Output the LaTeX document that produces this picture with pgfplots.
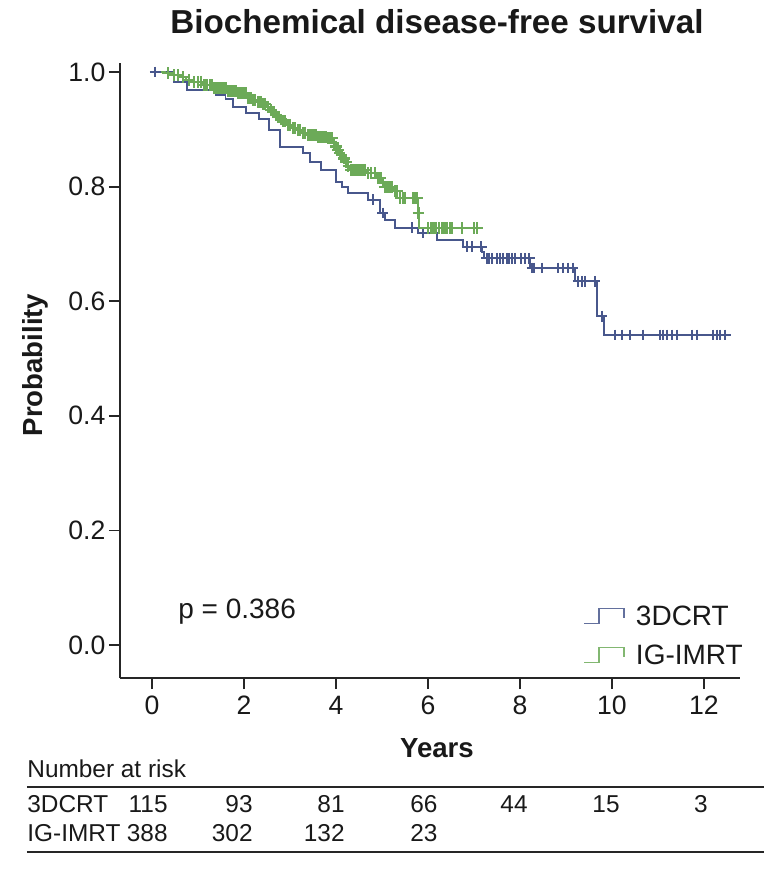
\documentclass[border=0pt]{standalone}
\usepackage{fontspec}
\setmainfont{Liberation Sans}
\usepackage{pgfplots}
\pgfplotsset{compat=1.18}
\definecolor{cblue}{RGB}{72,87,140}
\definecolor{cgreen}{RGB}{108,170,88}
\begin{document}
\begin{tikzpicture}
\begin{axis}[
  x=23pt, y=286.5pt,
  xmin=-0.7, xmax=12.78, ymin=-0.058, ymax=1.015,
  axis x line*=bottom, axis y line*=left,
  axis line style={line width=1pt, black!85},
  xtick={0,2,4,6,8,10,12}, ytick={0,0.2,0.4,0.6,0.8,1},
  tick align=outside, major tick length=5.5pt,
  tick style={line width=0.9pt, black!85},
  yticklabel style={/pgf/number format/fixed, /pgf/number format/fixed zerofill, /pgf/number format/precision=1, inner xsep=1.5pt},
  /pgf/number format/assume math mode=true,
  tick label style={font=\fontsize{13.3}{15}\selectfont, black!90},
  clip=false,
  every axis title shift=0pt,
  title={Biochemical disease-free survival},
  title style={at={(axis cs:6.196,1.0873)}, anchor=center, yshift=0pt, font=\bfseries\fontsize{16.6}{19}\selectfont, black!90},
  xlabel={Years},
  xlabel style={at={(axis cs:6.196,-0.1798)}, anchor=center, font=\bfseries\fontsize{13.8}{16}\selectfont, black!90},
  ylabel={Probability},
  ylabel style={at={(axis cs:-2.543,0.4887)}, anchor=center, font=\bfseries\fontsize{13.8}{16}\selectfont, black!90},
  legend style={at={(axis cs:9.37,0.0750)}, anchor=north west, draw=none, fill=none, inner sep=0pt,
    font=\fontsize{14}{16}\selectfont, row sep=4.2pt, nodes={inner sep=2pt, text=black!90}},
  legend cell align=left,
]
% 3DCRT step curve
\addplot[cblue, line width=0.9pt, const plot,
  legend image code/.code={\draw[cblue!85, line width=0.7pt] (0pt,-3pt) -- (7.5pt,-3pt) -- (7.5pt,4.5pt) -- (20pt,4.5pt) -- (20pt,0pt); \path (23.5pt,0pt);}]
table {
x y
0 1.000
0.48 0.983
0.76 0.969
1.40 0.960
1.60 0.953
1.76 0.939
2.04 0.928
2.33 0.918
2.54 0.899
2.78 0.869
3.28 0.859
3.43 0.843
3.67 0.829
4.00 0.808
4.13 0.799
4.26 0.789
4.70 0.777
4.96 0.754
5.07 0.742
5.28 0.728
5.78 0.719
6.20 0.707
6.76 0.695
7.17 0.686
7.22 0.675
8.22 0.658
9.20 0.635
9.67 0.574
9.83 0.541
12.50 0.541
};
\addlegendentry{3DCRT}
% 3DCRT censored
\addplot[cblue, only marks, mark=+, mark size=2.7pt, line width=0.9pt, forget plot]
table {
x y
0.07 1.000
4.80 0.777
5.02 0.754
5.65 0.728
5.89 0.719
6.85 0.695
6.96 0.695
7.16 0.695
7.28 0.675
7.33 0.675
7.39 0.675
7.50 0.675
7.57 0.675
7.63 0.675
7.72 0.675
7.76 0.675
7.83 0.675
7.89 0.675
8.02 0.675
8.11 0.675
8.20 0.675
8.26 0.658
8.31 0.658
8.48 0.658
8.83 0.658
8.93 0.658
9.04 0.658
9.15 0.658
9.26 0.635
9.35 0.635
9.41 0.635
9.63 0.635
9.78 0.574
10.07 0.541
10.22 0.541
10.39 0.541
10.67 0.541
11.04 0.541
11.11 0.541
11.20 0.541
11.30 0.541
11.41 0.541
11.74 0.541
11.85 0.541
12.20 0.541
12.28 0.541
12.35 0.541
12.46 0.541
};
% IG-IMRT step curve
\addplot[cgreen, line width=0.9pt, const plot,
  legend image code/.code={\draw[cgreen!85, line width=0.7pt] (0pt,-3pt) -- (7.5pt,-3pt) -- (7.5pt,4.5pt) -- (20pt,4.5pt) -- (20pt,0pt); \path (23.5pt,0pt);}]
table {
x y
0 1.000
0.28 0.998
0.43 0.995
0.61 0.991
0.74 0.986
0.87 0.983
1.11 0.977
1.33 0.972
1.63 0.967
1.85 0.963
2.07 0.955
2.17 0.951
2.28 0.948
2.39 0.944
2.50 0.939
2.56 0.934
2.61 0.930
2.67 0.925
2.72 0.921
2.78 0.917
2.83 0.914
2.93 0.908
3.04 0.902
3.15 0.899
3.26 0.894
3.37 0.890
3.59 0.887
3.80 0.885
3.93 0.876
3.98 0.870
4.02 0.864
4.06 0.859
4.09 0.855
4.15 0.849
4.20 0.843
4.25 0.836
4.30 0.829
4.67 0.824
4.89 0.815
5.02 0.799
5.24 0.792
5.39 0.780
5.79 0.754
5.80 0.728
7.13 0.728
};
\addlegendentry{IG-IMRT}
% IG-IMRT censored
\addplot[cgreen, only marks, mark=+, mark size=2.9pt, line width=1.1pt, forget plot]
table {
x y
0.35 0.998
0.48 0.995
0.56 0.995
0.68 0.991
0.80 0.986
0.92 0.983
1.00 0.983
1.06 0.983
1.14 0.977
1.20 0.977
1.26 0.977
1.31 0.977
1.36 0.972
1.40 0.972
1.44 0.972
1.48 0.972
1.52 0.972
1.56 0.972
1.60 0.972
1.66 0.967
1.70 0.967
1.74 0.967
1.78 0.967
1.82 0.967
1.88 0.963
1.92 0.963
1.96 0.963
2.00 0.963
2.04 0.963
2.10 0.955
2.14 0.955
2.20 0.951
2.24 0.951
2.30 0.948
2.34 0.948
2.37 0.948
2.42 0.944
2.46 0.944
2.52 0.939
2.58 0.934
2.64 0.930
2.69 0.925
2.75 0.921
2.80 0.917
2.86 0.914
2.90 0.914
2.96 0.908
3.00 0.908
3.07 0.902
3.11 0.902
3.18 0.899
3.22 0.899
3.29 0.894
3.33 0.894
3.40 0.890
3.44 0.890
3.48 0.890
3.52 0.890
3.56 0.890
3.62 0.887
3.66 0.887
3.70 0.887
3.74 0.887
3.78 0.887
3.83 0.885
3.87 0.885
3.91 0.885
3.95 0.876
4.00 0.870
4.04 0.864
4.08 0.859
4.12 0.855
4.17 0.849
4.22 0.843
4.27 0.836
4.33 0.829
4.37 0.829
4.41 0.829
4.45 0.829
4.49 0.829
4.53 0.829
4.57 0.829
4.62 0.829
4.70 0.824
4.76 0.824
4.84 0.824
4.92 0.815
4.97 0.815
5.06 0.799
5.10 0.799
5.14 0.799
5.18 0.799
5.22 0.799
5.28 0.792
5.33 0.792
5.40 0.780
5.45 0.780
5.50 0.780
5.68 0.780
5.72 0.780
5.76 0.780
5.795 0.754
6.00 0.728
6.06 0.728
6.12 0.728
6.18 0.728
6.24 0.728
6.30 0.728
6.36 0.728
6.42 0.728
6.48 0.728
6.53 0.728
6.74 0.728
7.00 0.728
7.06 0.728
};
% p-value
\node[anchor=west, inner sep=0pt, font=\fontsize{14}{16}\selectfont, text=black!90] at (axis cs:0.565,0.0576) {p = 0.386};
% number at risk table
\node[anchor=west, inner sep=0pt, font=\fontsize{12.2}{14}\selectfont, text=black!90] at (axis cs:-2.717,-0.2164) {Number at risk};
\draw[line width=0.8pt, black!85] (axis cs:-2.717,-0.2478) -- (axis cs:13.304,-0.2478);
\draw[line width=0.8pt, black!85] (axis cs:-2.717,-0.3613) -- (axis cs:13.304,-0.3613);
\begin{scope}[every node/.style={inner sep=0pt, font=\fontsize{12.2}{14}\selectfont, text=black!90}]
\node[anchor=west] at (axis cs:-2.717,-0.2775) {3DCRT};
\node[anchor=west] at (axis cs:-2.717,-0.3281) {IG-IMRT};
\node[anchor=east] at (axis cs:0.348,-0.2775) {115};
\node[anchor=east] at (axis cs:2.196,-0.2775) {93};
\node[anchor=east] at (axis cs:4.196,-0.2775) {81};
\node[anchor=east] at (axis cs:6.217,-0.2775) {66};
\node[anchor=east] at (axis cs:8.174,-0.2775) {44};
\node[anchor=east] at (axis cs:10.174,-0.2775) {15};
\node[anchor=east] at (axis cs:12.087,-0.2775) {3};
\node[anchor=east] at (axis cs:0.348,-0.3281) {388};
\node[anchor=east] at (axis cs:2.196,-0.3281) {302};
\node[anchor=east] at (axis cs:4.196,-0.3281) {132};
\node[anchor=east] at (axis cs:6.217,-0.3281) {23};
\end{scope}
\coordinate (bbtl) at (axis cs:-3.304,1.1257);
\coordinate (bbbr) at (axis cs:13.717,-0.3944);
\end{axis}
\path[use as bounding box] (bbtl) rectangle (bbbr);
\end{tikzpicture}
\end{document}
